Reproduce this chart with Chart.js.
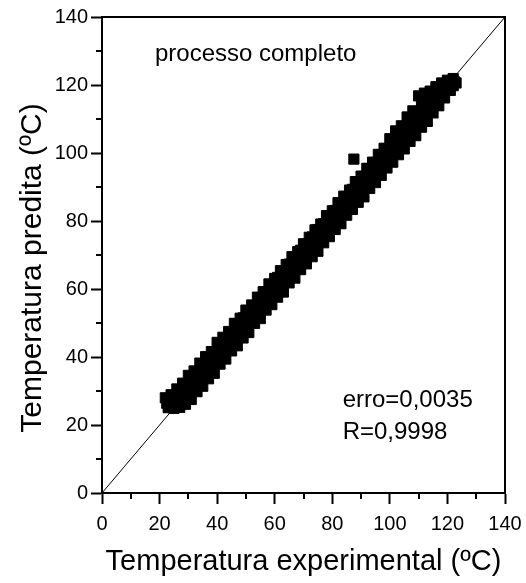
<!DOCTYPE html>
<html>
<head>
<meta charset="utf-8">
<script src="https://cdn.jsdelivr.net/npm/chart.js@4.4.1/dist/chart.umd.min.js"></script>
<style>
  html, body { margin: 0; padding: 0; background: #fff; }
  #chart { display: block; }
</style>
</head>
<body>
<canvas id="chart" width="526" height="583"></canvas>
<script>
// experimental vs predicted temperature, [exp, pred] in ºC
const upperBand = [
    [22, 28.0], [24, 28.9], [26, 30.6], [28, 32.3], [30, 34.6], [32, 35.9], [34, 38.2],
    [36, 40.1], [38, 41.6], [40, 44.3], [42, 45.8], [44, 47.5], [46, 49.9], [48, 51.4],
    [50, 53.8], [52, 55.3], [54, 57.6], [56, 59.2], [58, 61.5], [60, 63.1], [62, 65.4],
    [64, 67.2], [66, 69.5], [68, 71.0], [70, 73.3], [72, 75.2], [74, 77.4], [76, 79.1],
    [78, 81.6], [80, 83.0], [82, 85.4], [84, 87.3], [86, 89.1], [88, 91.6], [90, 93.2],
    [92, 95.5], [94, 97.3], [96, 99.6], [98, 101.4], [100, 104.2], [102, 106.5], [104, 108.0],
    [106, 110.6], [108, 112.4], [110, 116.8], [112, 117.6], [114, 118.2], [116, 119.5],
    [118, 120.6], [120, 121.4], [122, 121.9]
];
const upperMidBand = [
    [23, 27.0], [25, 28.1], [27, 29.9], [29, 31.5], [31, 33.4], [33, 35.6], [35, 37.2],
    [37, 39.5], [39, 41.3], [41, 43.2], [43, 45.4], [45, 47.1], [47, 49.3], [49, 51.5],
    [51, 53.2], [53, 55.0], [55, 57.4], [57, 59.1], [59, 61.3], [61, 63.4], [63, 65.1],
    [65, 67.3], [67, 69.2], [69, 71.4], [71, 73.1], [73, 75.3], [75, 77.5], [77, 79.2],
    [79, 81.3], [81, 83.1], [83, 85.4], [85, 87.2], [87, 89.3], [89, 91.5], [91, 93.1],
    [93, 95.4], [95, 97.2], [97, 99.5], [99, 101.3], [101, 103.6], [103, 105.8], [105, 107.4],
    [107, 109.6], [109, 111.8], [111, 114.5], [113, 116.0], [115, 117.4], [117, 118.9],
    [119, 119.8], [121, 120.7]
];
const midBand = [
    [22.5, 26.4], [24.5, 26.9], [26.5, 27.8], [28.5, 29.9], [30.5, 31.2], [32.5, 33.6],
    [34.5, 35.0], [36.5, 37.3], [38.5, 39.4], [40.5, 41.1], [42.5, 43.2], [44.5, 45.3],
    [46.5, 46.9], [48.5, 49.2], [50.5, 51.0], [52.5, 53.1], [54.5, 54.8], [56.5, 57.4],
    [58.5, 58.9], [60.5, 60.8], [62.5, 63.0], [64.5, 64.6], [66.5, 67.1], [68.5, 68.7],
    [70.5, 70.9], [72.5, 73.2], [74.5, 74.8], [76.5, 77.0], [78.5, 79.1], [80.5, 80.7],
    [82.5, 83.2], [84.5, 84.9], [86.5, 87.0], [88.5, 89.3], [90.5, 91.0], [92.5, 92.8],
    [94.5, 95.2], [96.5, 97.0], [98.5, 99.3], [100.5, 101.2], [102.5, 103.4], [104.5, 105.3],
    [106.5, 107.6], [108.5, 109.8], [110.5, 112.0], [112.5, 113.9], [114.5, 115.6],
    [116.5, 117.1], [118.5, 118.4], [120.5, 119.6], [122.5, 120.9]
];
const lowerMidBand = [
    [24, 25.3], [26, 26.0], [28, 26.9], [30, 28.6], [32, 30.3], [34, 32.2], [36, 34.4],
    [38, 36.1], [40, 38.3], [42, 40.4], [44, 42.1], [46, 44.5], [48, 46.2], [50, 48.3],
    [52, 50.4], [54, 52.1], [56, 54.4], [58, 56.3], [60, 58.1], [62, 60.4], [64, 62.2],
    [66, 64.3], [68, 66.5], [70, 68.1], [72, 70.3], [74, 72.4], [76, 74.2], [78, 76.5],
    [80, 78.3], [82, 80.1], [84, 82.4], [86, 84.2], [88, 86.3], [90, 88.5], [92, 90.2],
    [94, 92.4], [96, 94.1], [98, 96.5], [100, 98.3], [102, 100.4], [104, 102.6], [106, 104.3],
    [108, 106.5], [110, 108.4], [112, 110.6], [114, 112.7], [116, 114.8], [118, 116.6],
    [120, 118.5], [122, 119.8]
];
const lowerBand = [
    [23, 25.1], [25, 24.9], [27, 25.2], [29, 26.1], [31, 27.5], [33, 29.8], [35, 31.4],
    [37, 33.6], [39, 35.2], [41, 37.9], [43, 39.4], [45, 41.8], [47, 43.3], [49, 45.6],
    [51, 47.2], [53, 49.9], [55, 51.3], [57, 53.8], [59, 55.4], [61, 57.6], [63, 59.1],
    [65, 61.8], [67, 63.2], [69, 65.7], [71, 67.4], [73, 69.5], [75, 71.1], [77, 73.6],
    [79, 75.4], [81, 77.5], [83, 79.2], [85, 81.7], [87, 83.4], [89, 85.5], [91, 87.1],
    [93, 89.6], [95, 91.3], [97, 93.4], [99, 95.6], [101, 97.3], [103, 99.5], [105, 101.2],
    [107, 103.4], [109, 105.1], [111, 107.6], [113, 109.3], [115, 111.8], [117, 113.9],
    [119, 116.2], [121, 118.4], [123, 120.6]
];
const outliers = [[87.5, 98.2]];

// y = x reference line
const idealLine = [[0, 0], [140, 140]];

const majorTicks = [0, 20, 40, 60, 80, 100, 120, 140];
const minorTicks = [10, 30, 50, 70, 90, 110, 130];

const xTitle = 'Temperatura experimental (ºC)';
const yTitle = 'Temperatura predita (ºC)';
const notes = ['processo completo', 'erro=0,0035', 'R=0,9998'];

const FONT = 'Arial, "Liberation Sans", Helvetica, sans-serif';

const toXY = arr => arr.map(p => ({ x: p[0], y: p[1] }));
const allPoints = toXY([...upperBand, ...upperMidBand, ...midBand, ...lowerMidBand, ...lowerBand, ...outliers]);

// top/right frame, minor ticks, axis titles and the text notes
const framePlugin = {
    id: 'frame',
    afterDraw(chart) {
        const { ctx, chartArea: a, scales: { x, y } } = chart;
        ctx.save();
        ctx.strokeStyle = '#000';
        ctx.lineWidth = 2;
        ctx.beginPath();
        ctx.moveTo(a.left, a.top);
        ctx.lineTo(a.right, a.top);
        ctx.lineTo(a.right, a.bottom);
        ctx.stroke();

        ctx.beginPath();
        minorTicks.forEach(v => {
            const px = Math.round(x.getPixelForValue(v));
            ctx.moveTo(px, a.bottom);
            ctx.lineTo(px, a.bottom + 6);
            const py = Math.round(y.getPixelForValue(v));
            ctx.moveTo(a.left, py);
            ctx.lineTo(a.left - 6, py);
        });
        ctx.stroke();

        ctx.fillStyle = '#000';
        ctx.textBaseline = 'alphabetic';

        // axis titles
        ctx.font = '29px ' + FONT;
        ctx.textAlign = 'center';
        ctx.fillText(xTitle, (a.left + a.right) / 2, a.bottom + 77);
        ctx.save();
        ctx.font = '30px ' + FONT;
        ctx.translate(41, (a.top + a.bottom) / 2 + 13);
        ctx.rotate(-Math.PI / 2);
        ctx.fillText(yTitle, 0, 0);
        ctx.restore();

        ctx.font = '24px ' + FONT;
        ctx.textAlign = 'left';
        const spots = [[18.4, 127.1], [83.6, 25.3], [83.6, 15.9]];
        notes.forEach((t, i) => {
            ctx.fillText(t, x.getPixelForValue(spots[i][0]), y.getPixelForValue(spots[i][1]));
        });
        ctx.restore();
    }
};

const axis = (fit, pad) => ({
    type: 'linear',
    min: 0,
    max: 140,
    afterBuildTicks: s => { s.ticks = majorTicks.map(v => ({ value: v })); },
    ticks: { color: '#000', font: { family: FONT, size: 20 }, padding: pad, maxRotation: 0 },
    grid: { drawOnChartArea: false, drawTicks: true, tickLength: 11, tickWidth: 2, tickColor: '#000' },
    border: { color: '#000', width: 2 },
    title: { display: false },
    afterFit: fit
});

const xAxis = axis(s => { s.height = 90; s.paddingLeft = 0; s.paddingRight = 0; }, 8);
const yAxis = axis(s => { s.width = 102; s.paddingTop = 0; s.paddingBottom = 0; }, 3);

new Chart(document.getElementById('chart').getContext('2d'), {
    type: 'scatter',
    data: {
        datasets: [
            {
                data: toXY(idealLine),
                showLine: true,
                borderColor: '#000',
                borderWidth: 1,
                pointRadius: 0,
                order: 1
            },
            {
                data: allPoints,
                pointStyle: 'rect',
                pointRadius: 7.2,
                backgroundColor: '#000',
                borderColor: '#000',
                borderWidth: 1,
                order: 0
            }
        ]
    },
    options: {
        responsive: false,
        animation: false,
        layout: { padding: { top: 17, right: 21, left: 0, bottom: 0 } },
        plugins: { legend: { display: false }, tooltip: { enabled: false } },
        scales: { x: xAxis, y: yAxis }
    },
    plugins: [framePlugin]
});
</script>
</body>
</html>
